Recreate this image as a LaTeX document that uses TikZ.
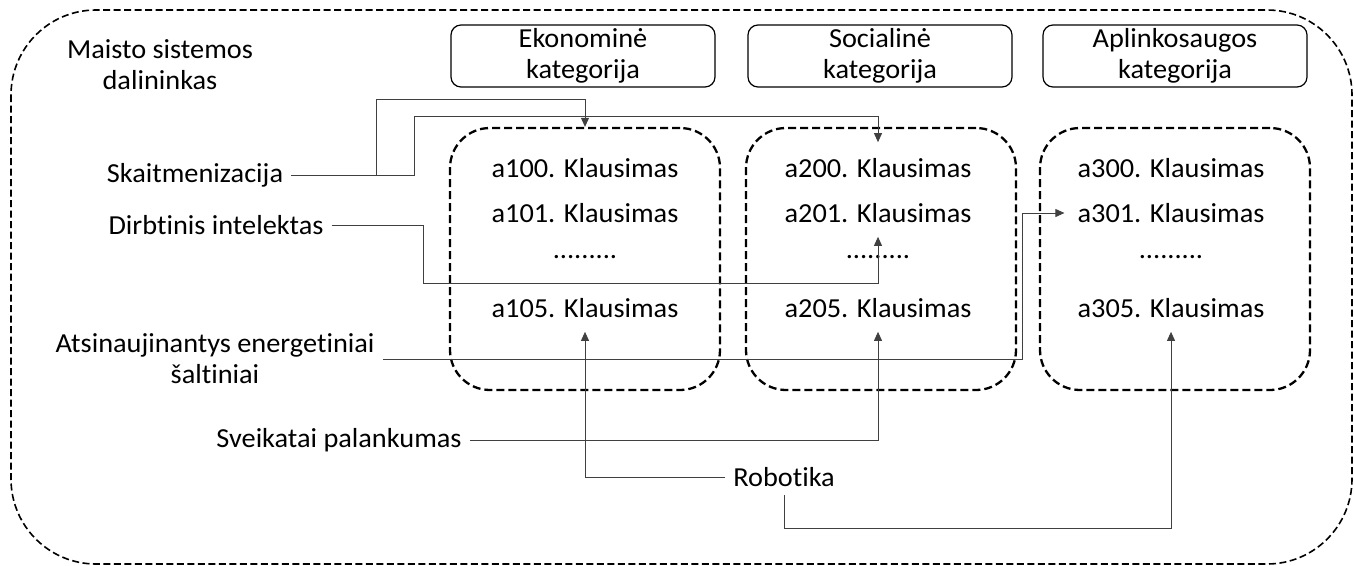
\documentclass[tikz,border=0pt]{standalone}
\usepackage{fontspec}
\setmainfont{Carlito}[Ligatures=NoCommon,FakeStretch=1.03]
\usetikzlibrary{positioning}
\usetikzlibrary{arrows.meta}
\begin{document}
\begin{tikzpicture}[x=1pt,y=-1pt,node distance=293pt,
  every node/.style={font=\fontsize{27.5}{31}\selectfont,inner sep=8pt},
  kat/.style={draw,line width=1.2pt,rounded corners=10pt,minimum width=264pt,minimum height=62pt,align=center,inner sep=0pt},
  grupe/.style={draw,line width=2.3pt,dash pattern=on 8pt off 4pt,rounded corners=40pt,minimum width=270pt,minimum height=262pt},
  jung/.style={draw=black!75,line width=0.9pt,-{Triangle[length=9pt,width=8pt]}}]
  \useasboundingbox (0,0) rectangle (1354,565);
  \draw[line width=1.6pt,dash pattern=on 7pt off 3.5pt,rounded corners=85pt] (11,10) rectangle (1352,564);
  \node (dal) at (160,65)[align=center]{Maisto sistemos\\dalininkas};
  % kategorijos
  \node (eko) at (583,56)[kat]{Ekonominė\\kategorija};
  \node (soc) at (880,56)[kat]{Socialinė\\kategorija};
  \node (apl) at (1175,56)[kat]{Aplinkosaugos\\kategorija};
  % klausimu grupes
  \node (g1) at (585,259)[grupe]{};
  \node (g2) at (881,259)[grupe]{};
  \node (g3) at (1175,259)[grupe]{};
  \node (a100) at (585,168){a100. Klausimas};
  \node (a101) at (585,213){a101. Klausimas};
  \node (d1) at (585,257){.........};
  \node (a105) at (585,308){a105. Klausimas};
  \node[right of=a100] (a200){a200. Klausimas};
  \node[right of=a101] (a201){a201. Klausimas};
  \node[right of=d1] (d2){.........};
  \node[right of=a105] (a205){a205. Klausimas};
  \node[right of=a200] (a300){a300. Klausimas};
  \node[right of=a201] (a301){a301. Klausimas};
  \node[right of=d2] (d3){.........};
  \node[right of=a205] (a305){a305. Klausimas};
  % technologijos
  \node (skait) at (195,175){Skaitmenizacija};
  \node (dirb) at (216,225){Dirbtinis intelektas};
  \node (atsin) at (215,359)[align=center]{Atsinaujinantys energetiniai\\šaltiniai};
  \node (sveik) at (339,440){Sveikatai palankumas};
  \node (robot) at (784,477){Robotika};
  \coordinate (s1) at (376,99);
  \coordinate (s2) at (414,116);
  \coordinate (d0) at (423,283);
  \coordinate (e0) at (1022,0);
  \coordinate (r0) at (0,528);
  \draw[jung] (skait.east) -| (s1) -| (g1.north);
  \draw[jung] (skait.east) -| (s2) -| ([yshift=8pt]a200.north);
  \draw[jung] (dirb.east) -| (d0) -| ([yshift=-6pt]a201.south);
  \draw[jung] (atsin.east) -- (atsin.east -| e0) |- ([xshift=-5pt]a301.west);
  \draw[jung] (sveik.east) -| ([yshift=-6pt]a205.south);
  \draw[jung] (robot.west) -| ([yshift=-6pt]a105.south);
  \draw[jung] (robot.south) -- (robot.south |- r0) -| ([yshift=-6pt]a305.south);
\end{tikzpicture}
\end{document}
